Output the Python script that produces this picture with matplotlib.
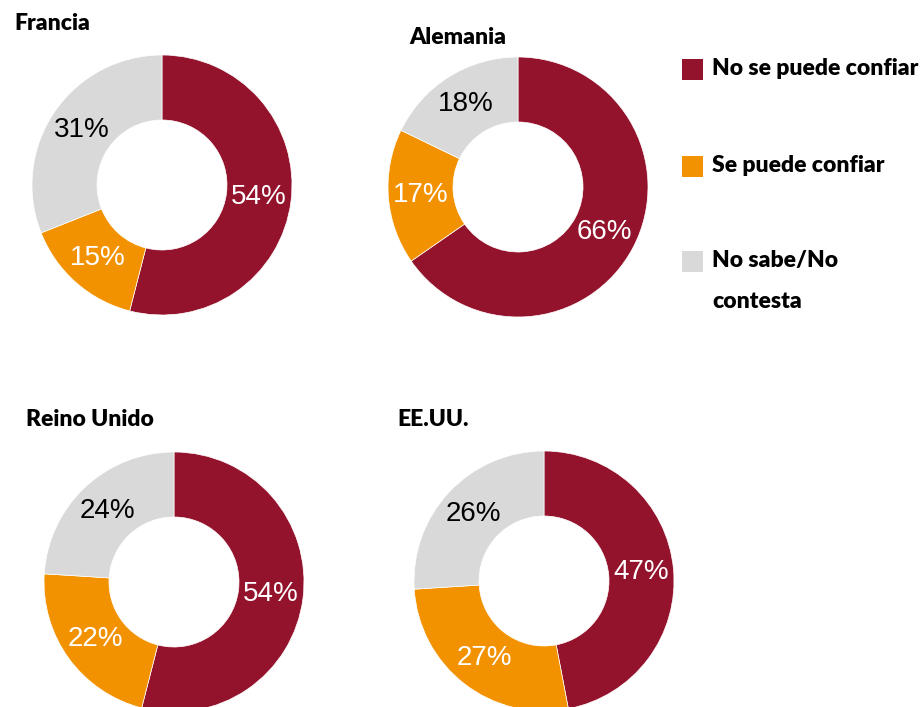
import matplotlib.pyplot as plt
from matplotlib.patches import Rectangle

# Data
countries = ["Francia", "Alemania", "Reino Unido", "EE.UU."]
no_confiar = [54, 66, 54, 47]
si_confiar = [15, 17, 22, 27]
no_sabe = [31, 18, 24, 26]
categories = ["No se puede confiar", "Se puede confiar", "No sabe/No\ncontesta"]
colors = ["#93122C", "#F39200", "#D9D9D9"]
label_colors = ["white", "white", "black"]

W, H = 924, 707
fig = plt.figure(figsize=(W / 100, H / 100), dpi=100)

# layout in pixels: donut centre, radius, title position
centres = [(162, 185), (518, 187), (174, 582), (544, 581)]
R = 130
titles_xy = [(14, 24), (409, 37), (26, 419), (397, 419)]

TITLE_FONT = dict(family=["Lato", "DejaVu Sans"], weight="heavy", fontsize=16.5)

for i, name in enumerate(countries):
    cx, cy = centres[i]
    ax = fig.add_axes([(cx - R) / W, 1 - (cy + R) / H, 2 * R / W, 2 * R / H])
    vals = [no_confiar[i], si_confiar[i], no_sabe[i]]
    wedges, texts = ax.pie(vals, colors=colors, startangle=90, counterclock=False,
                           radius=1, labels=[f"{v}%" for v in vals],
                           labeldistance=0.75,
                           wedgeprops=dict(width=0.5, edgecolor="white", linewidth=0.5),
                           textprops=dict(fontsize=20, family="Liberation Sans"))
    for t, c in zip(texts, label_colors):
        t.set_color(c)
        t.set_ha("center")
        t.set_va("center")
    ax.set_xlim(-1, 1)
    ax.set_ylim(-1, 1)
    ax.set_aspect("equal")
    ax.axis("off")
    tx, ty = titles_xy[i]
    fig.text(tx / W, 1 - ty / H, name, ha="left", va="center", **TITLE_FONT)

# Legend drawn by hand so the square sits on the first line
leg_y = [70, 167, 262]
for lab, col, y in zip(categories, colors, leg_y):
    fig.patches.append(Rectangle(((682) / W, 1 - (y + 10) / H), 21 / W, 21 / H,
                                 transform=fig.transFigure, facecolor=col,
                                 edgecolor="none"))
    fig.text(712 / W, 1 - (y - 12) / H, lab, ha="left", va="top",
             linespacing=2.15, **TITLE_FONT)

fig.savefig("out.png", dpi=100)
